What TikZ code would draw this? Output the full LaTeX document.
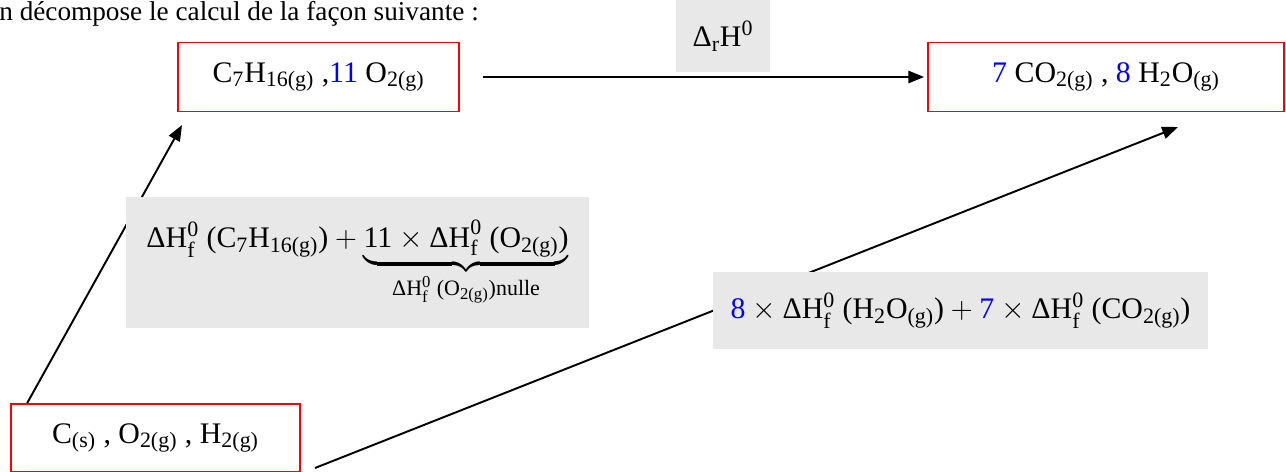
\documentclass[tikz,border=0pt]{standalone}
\usepackage{amsmath}
\usepackage{fontspec}
\setmainfont{Liberation Serif}
\usetikzlibrary{arrows.meta}
\DeclareMathSizes{17}{17}{12.5}{9}
\DeclareMathSizes{12.5}{12.5}{9.5}{7}
\newcommand{\ind}[1]{\ensuremath{_{\text{#1}}}}
\newcommand{\dHf}{ΔH\ensuremath{_{\text{f}}^{\text{0}}}}
\newcommand{\bl}[1]{\textcolor{blue}{#1}}
\newcommand{\fois}{\ensuremath{{}\times{}}}
\newcommand{\plus}{\ensuremath{{}+{}}}
\tikzset{
  espece/.style={draw=red,line width=1pt,fill=white,inner sep=0pt},
  grisbox/.style={fill=black!9,draw=none,inner sep=0pt},
  fleche/.style={line width=1.1pt,-{Triangle[length=9pt,width=7pt]}}
}

\begin{document}
\begin{tikzpicture}[x=0.02cm,y=-0.02cm,font=\fontsize{17}{19}\selectfont]
  \useasboundingbox (0,0) rectangle (1286,471);

  % phrase d'introduction
  \node[anchor=base west,inner sep=0pt,font=\fontsize{15.5}{17}\selectfont] (phrase) at (-1,20)
    {n décompose le calcul de la façon suivante :};

  % especes chimiques
  \node[espece,minimum width=5.62cm,minimum height=1.38cm] (reactifs) at (318.5,77)
    {C\ind{7}H\ind{16(g)} ,\bl{11} O\ind{2(g)}};
  \node[espece,minimum width=7.12cm,minimum height=1.38cm] (produits) at (1106,77)
    {\bl{7} CO\ind{2(g)} , \bl{8} H\ind{2}O\ind{(g)}};
  \node[espece,minimum width=5.78cm,minimum height=1.36cm] (elements) at (155.5,438)
    {C\ind{(s)} , O\ind{2(g)} , H\ind{2(g)}};

  % fleches
  \coordinate (pointeR) at (182,125);
  \coordinate (depart) at (315,468);
  \coordinate (pointeP) at (1178,127);
  \draw[fleche] ([xshift=0.46cm]reactifs.east) -- ([xshift=-0.06cm]produits.west);
  \draw[fleche] ([xshift=0.34cm]elements.north west) -- (pointeR);
  \draw[fleche] (depart) -- (pointeP);

  % enthalpies
  \node[grisbox,minimum width=1.88cm,minimum height=1.44cm] (drH) at (723,36)
    {Δ\ind{r}H\ensuremath{^{\text{0}}}};
  \node[grisbox,minimum width=9.26cm,minimum height=2.62cm,text depth=1.1cm,text height=0.5cm] (formR) at (357.5,262.5)
    {\dHf\ (C\ind{7}H\ind{16(g)})\plus$\underbrace{\text{11\fois\dHf\ (O\ind{2(g)})}}_{\text{\dHf\ (O\ind{2(g)})nulle}}$};
  \node[grisbox,minimum width=9.9cm,minimum height=1.54cm] (formP) at (960.5,310.5)
    {\bl{8}\fois\dHf\ (H\ind{2}O\ind{(g)})\plus\bl{7}\fois\dHf\ (CO\ind{2(g)})};
\end{tikzpicture}
\end{document}
